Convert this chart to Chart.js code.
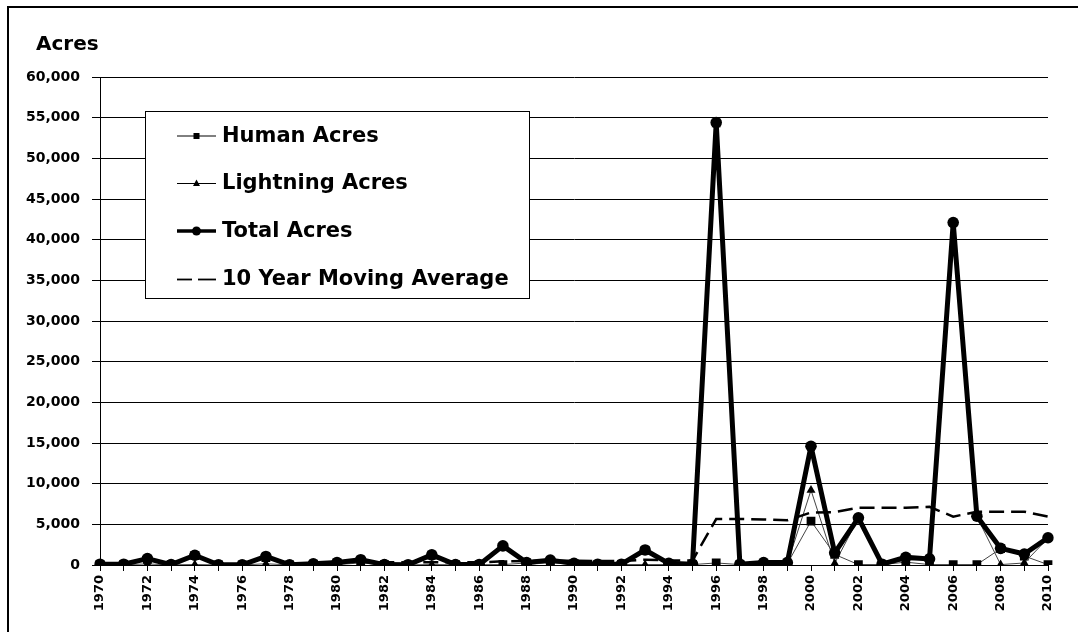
<!DOCTYPE html>
<html>
<head>
<meta charset="utf-8">
<script src="https://cdn.jsdelivr.net/npm/chart.js@4.4.1/dist/chart.umd.min.js"></script>
<style>
  html, body { margin: 0; padding: 0; background: #ffffff; }
  #wrap { position: relative; width: 1078px; height: 632px; }
</style>
</head>
<body>
<div id="wrap"><canvas id="c"></canvas></div>
<script>
const years = ["1970","1971","1972","1973","1974","1975","1976","1977","1978","1979",
  "1980","1981","1982","1983","1984","1985","1986","1987","1988","1989",
  "1990","1991","1992","1993","1994","1995","1996","1997","1998","1999",
  "2000","2001","2002","2003","2004","2005","2006","2007","2008","2009","2010"];

const humanAcres = [50,50,650,30,1150,20,20,900,20,100,
  250,400,30,20,1200,30,30,50,250,300,
  150,50,50,1800,150,50,250,50,150,150,
  5400,1300,50,50,350,50,50,50,2000,1100,50];

const lightningAcres = [50,50,130,20,50,10,10,150,10,50,
  50,250,20,10,50,20,20,2300,50,300,
  50,50,50,50,50,50,54150,50,150,150,
  9200,200,5750,50,600,700,42050,5950,50,250,3300];

const totalAcres = [100,100,780,50,1200,30,30,1050,30,150,
  300,650,50,30,1250,50,50,2350,300,600,
  200,100,100,1850,200,100,54400,100,300,300,
  14600,1500,5800,100,950,750,42100,6000,2050,1350,3350];

const movingAverage = [null,null,null,null,null,null,null,null,null,350,
  350,400,330,320,330,330,330,450,480,520,
  520,480,480,650,560,560,5650,5650,5600,5500,
  6450,6500,7050,7050,7050,7150,5950,6550,6550,6550,5950];

const yTicks = [0,5000,10000,15000,20000,25000,30000,35000,40000,45000,50000,55000,60000];

const legendItems = [
  { label: "Human Acres", kind: "human" },
  { label: "Lightning Acres", kind: "lightning" },
  { label: "Total Acres", kind: "total" },
  { label: "10 Year Moving Average", kind: "ma" }
];

const frameAndLegend = {
  id: 'frameAndLegend',
  afterDraw(chart) {
    const ctx = chart.ctx;
    ctx.save();
    ctx.strokeStyle = '#000';
    ctx.lineWidth = 2;
    ctx.beginPath();
    ctx.moveTo(1078, 7);
    ctx.lineTo(8, 7);
    ctx.lineTo(8, 632);
    ctx.stroke();

    ctx.fillStyle = '#000';
    ctx.font = 'bold 20px "DejaVu Sans"';
    ctx.textAlign = 'left';
    ctx.textBaseline = 'alphabetic';
    ctx.fillText('Acres', 36, 50);

    const bx = 145.5, by = 111.5, bw = 384, bh = 187;
    ctx.fillStyle = '#fff';
    ctx.fillRect(bx, by, bw, bh);
    ctx.strokeStyle = '#000';
    ctx.lineWidth = 1;
    ctx.strokeRect(bx, by, bw, bh);

    const x0 = 177, x1 = 216, xm = 196.5;
    const rows = [136, 183.5, 231, 279.5];
    legendItems.forEach((it, i) => {
      const y = rows[i];
      ctx.strokeStyle = '#000';
      ctx.fillStyle = '#000';
      ctx.setLineDash([]);
      if (it.kind === 'human') {
        ctx.lineWidth = 1;
        ctx.beginPath(); ctx.moveTo(x0, y); ctx.lineTo(x1, y); ctx.stroke();
        ctx.fillRect(xm - 3, y - 3, 6, 6);
      } else if (it.kind === 'lightning') {
        ctx.lineWidth = 1;
        ctx.beginPath(); ctx.moveTo(x0, y); ctx.lineTo(x1, y); ctx.stroke();
        ctx.beginPath();
        ctx.moveTo(xm, y - 4); ctx.lineTo(xm + 3.5, y + 2.5); ctx.lineTo(xm - 3.5, y + 2.5);
        ctx.closePath(); ctx.fill();
      } else if (it.kind === 'total') {
        ctx.lineWidth = 3.5;
        ctx.beginPath(); ctx.moveTo(x0, y); ctx.lineTo(x1, y); ctx.stroke();
        ctx.beginPath(); ctx.arc(xm, y, 4.5, 0, Math.PI * 2); ctx.fill();
      } else {
        ctx.lineWidth = 1.8;
        ctx.beginPath(); ctx.moveTo(x0, y); ctx.lineTo(x0 + 15, y); ctx.stroke();
        ctx.beginPath(); ctx.moveTo(x0 + 21, y); ctx.lineTo(x1, y); ctx.stroke();
      }
      ctx.fillStyle = '#000';
      ctx.font = 'bold 21px "DejaVu Sans"';
      ctx.textBaseline = 'middle';
      ctx.fillText(it.label, 222, y + 0.5);
    });
    ctx.restore();
  }
};

new Chart(document.getElementById('c'), {
  type: 'line',
  data: {
    labels: years,
    datasets: [
      {
        label: 'Human Acres', data: humanAcres, order: 4,
        borderColor: '#444', borderWidth: 1, tension: 0, borderJoinStyle: 'round',
        pointStyle: 'rect', pointRadius: 6.2, pointBackgroundColor: '#000', pointBorderColor: '#000', pointBorderWidth: 0
      },
      {
        label: 'Lightning Acres', data: lightningAcres, order: 3,
        borderColor: '#444', borderWidth: 1, tension: 0, borderJoinStyle: 'round',
        pointStyle: 'triangle', pointRadius: 5.2, pointBackgroundColor: '#000', pointBorderColor: '#000', pointBorderWidth: 0
      },
      {
        label: 'Total Acres', data: totalAcres, order: 2,
        borderColor: '#000', borderWidth: 5, tension: 0, borderJoinStyle: 'round',
        pointStyle: 'circle', pointRadius: 5.8, pointBackgroundColor: '#000', pointBorderColor: '#000', pointBorderWidth: 0
      },
      {
        label: '10 Year Moving Average', data: movingAverage, order: 1,
        borderColor: '#000', borderWidth: 2.5, borderDash: [15, 7], tension: 0,
        pointRadius: 0, spanGaps: false
      }
    ]
  },
  options: {
    responsive: true,
    maintainAspectRatio: false,
    animation: false,
    devicePixelRatio: 1,
    layout: { padding: { left: 0, top: 77, right: 30, bottom: 0 } },
    plugins: { legend: { display: false }, tooltip: { enabled: false }, title: { display: false } },
    scales: {
      x: {
        type: 'category',
        offset: false,
        afterFit(s) { s.height = 67; },
        grid: { display: true, drawOnChartArea: false, drawTicks: true, tickLength: 6, color: '#000', lineWidth: 1 },
        border: { display: true, color: '#000', width: 1 },
        ticks: {
          autoSkip: false, maxRotation: 90, minRotation: 90, padding: 4,
          color: '#000', font: { family: '"DejaVu Sans"', size: 13, weight: 'bold' },
          callback(v, i) { return i % 2 === 0 ? years[i] : ''; }
        }
      },
      y: {
        min: 0, max: 60000,
        afterFit(s) { s.width = 100; },
        afterBuildTicks(s) { s.ticks = yTicks.map(v => ({ value: v })); },
        grid: { color: '#000', lineWidth: 1, drawTicks: true, tickLength: 8 },
        border: { display: true, color: '#000', width: 1 },
        ticks: {
          padding: 12, color: '#000',
          font: { family: '"DejaVu Sans"', size: 14, weight: 'bold' },
          callback(v) { return Number(v).toLocaleString('en-US'); }
        }
      }
    }
  },
  plugins: [frameAndLegend]
});
</script>
</body>
</html>
